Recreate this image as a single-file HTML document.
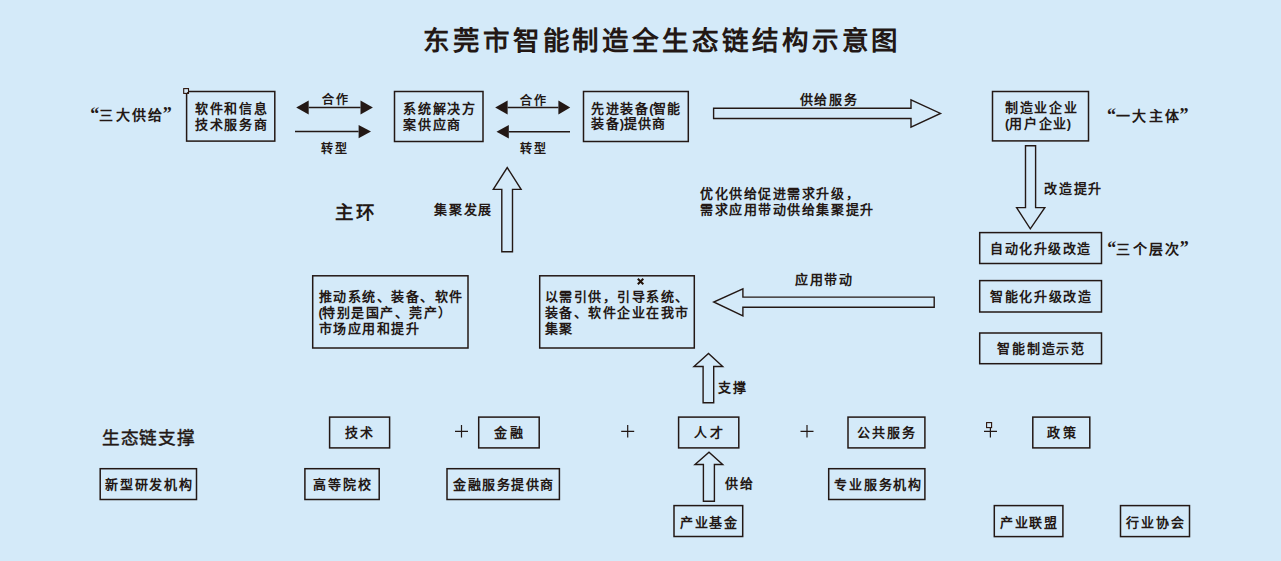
<!DOCTYPE html>
<html lang="zh-CN">
<head>
<meta charset="utf-8">
<title>东莞市智能制造全生态链结构示意图</title>
<style>
html,body{margin:0;padding:0;}
body{width:1281px;height:561px;overflow:hidden;background:#d4eaf9;position:relative;
  font-family:"Liberation Sans",sans-serif;color:#231815;}
svg{position:absolute;left:0;top:0;}
.t{position:absolute;white-space:nowrap;font-weight:700;font-size:13px;line-height:16px;letter-spacing:1.7px;}
.q{position:absolute;white-space:nowrap;font-weight:700;font-size:14px;line-height:16px;letter-spacing:2.4px;}
.qm{position:relative;top:0px;font-family:"Liberation Serif",serif;font-size:18px;line-height:0;letter-spacing:0px;}
.ql{letter-spacing:0.3px;}
</style>
</head>
<body>
<svg width="1281" height="561" viewBox="0 0 1281 561">
 <g fill="none" stroke="#231815" stroke-width="1.5">
  <!-- top row boxes -->
  <rect x="186.6" y="91.5" width="88.2" height="49.6"/>
  <rect x="394.5" y="91.5" width="88.5" height="50"/>
  <rect x="583.5" y="91.5" width="104.8" height="50"/>
  <rect x="992.5" y="91.5" width="96" height="49.4"/>
  <!-- right column -->
  <rect x="979.7" y="232.6" width="121.8" height="30.9"/>
  <rect x="979.7" y="280.6" width="121.8" height="31.4"/>
  <rect x="979.7" y="333" width="121.8" height="30.7"/>
  <!-- middle boxes -->
  <rect x="312.7" y="275.8" width="155.3" height="72.2"/>
  <rect x="539.7" y="275.8" width="154.6" height="72.2"/>
  <!-- support row -->
  <rect x="329.6" y="417.1" width="60" height="30.8"/>
  <rect x="478.7" y="417.1" width="60.5" height="30.8"/>
  <rect x="678.6" y="417.1" width="60.2" height="30.8"/>
  <rect x="848" y="417.1" width="76.9" height="30.8"/>
  <rect x="1032.8" y="417.1" width="57" height="30.8"/>
  <rect x="100.2" y="468.7" width="96.3" height="30.8"/>
  <rect x="304.9" y="468.7" width="74.3" height="30.8"/>
  <rect x="447" y="468.7" width="112.4" height="30.8"/>
  <rect x="828.7" y="468.7" width="96.2" height="30.8"/>
  <rect x="674" y="505.6" width="68.7" height="30.9"/>
  <rect x="994.3" y="505.6" width="68.6" height="31"/>
  <rect x="1120.5" y="505.6" width="69" height="31"/>
  <!-- hollow arrows -->
  <polygon points="713.6,108.3 911,108.3 911,99.8 940.5,113.4 911,127.2 911,118.5 713.6,118.5" stroke-width="1.4"/>
  <polygon points="934.2,297.1 742.9,297.1 742.9,288.9 713.7,302 742.9,316 742.9,307.2 934.2,307.2" stroke-width="1.4"/>
  <polygon points="1025.5,145.8 1035.6,145.8 1035.6,207.6 1044.8,207.6 1030.3,228.8 1016.6,207.6 1025.5,207.6" stroke-width="1.4"/>
  <polygon points="501.8,251.8 501.8,189.4 493.3,189.4 507.2,167.5 521.1,189.4 512.5,189.4 512.5,251.8" stroke-width="1.4"/>
  <polygon points="703.1,402.7 703.1,366.5 694,366.5 708.5,353.5 722.7,366.5 713.7,366.5 713.7,402.7" stroke-width="1.4"/>
  <polygon points="703.4,501.2 703.4,464.5 695,464.5 709,452.3 722.7,464.5 714.4,464.5 714.4,501.2" stroke-width="1.4"/>
  <!-- plus signs -->
  <g stroke-width="1.2">
   <path d="M455 431.3H468M461.5 425.1V437.6"/>
   <path d="M621.2 431.3H634.2M627.7 425.1V437.6"/>
   <path d="M800.5 431.3H813.5M807 425.1V437.6"/>
   <path d="M984 431.3H997M990.4 427.8V437.6"/>
  </g>
  <!-- small squares / marks -->
  <rect x="183.7" y="88.6" width="4.8" height="4.8" stroke="#2e140a" stroke-width="1.1" fill="#d6ecfb"/><circle cx="187.6" cy="92.6" r="0.7" fill="#231815" stroke="none"/>
  <rect x="986.6" y="422.6" width="5" height="5" stroke="#2e140a" stroke-width="1.1" fill="#d6ecfb"/>
  <path d="M637.8 278.8L643.3 284.3M643.3 278.8L637.8 284.3" stroke-width="2" stroke="#231208"/>
  <!-- thin arrows shafts -->
  <g stroke-width="1.5">
   <path d="M308.7 107.6H360.5"/>
   <path d="M295 131.6H358.6"/>
   <path d="M507.6 107.6H558.4"/>
   <path d="M508.8 131.7H570"/>
  </g>
 </g>
 <g fill="#231815">
  <polygon points="296.2,107.6 308.7,100.6 308.7,114.6"/>
  <polygon points="372.9,107.6 360.5,100.6 360.5,114.6"/>
  <polygon points="371,131.6 358.6,125 358.6,138.3"/>
  <polygon points="495.2,107.6 507.6,100.6 507.6,114.6"/>
  <polygon points="570.2,107.6 558.4,100.6 558.4,114.6"/>
  <polygon points="496.5,131.7 508.8,125 508.8,138.4"/>
 </g>
</svg>

<!-- title -->
<div class="t" style="left:423px;top:28px;font-size:26.5px;line-height:27px;letter-spacing:3.9px;">东莞市智能制造全生态链结构示意图</div>

<!-- quoted labels -->
<div class="q" style="left:90.2px;top:107px;"><span class="qm">“</span>三大供<span class="ql">给</span><span class="qm">”</span></div>
<div class="q" style="left:1107px;top:108px;"><span class="qm">“</span>一大主<span class="ql">体</span><span class="qm">”</span></div>
<div class="q" style="left:1107.2px;top:240.5px;"><span class="qm">“</span>三个层<span class="ql">次</span><span class="qm">”</span></div>

<!-- top boxes text -->
<div class="t" style="left:195px;top:101.1px;line-height:15.5px;">软件和信息<br>技术服务商</div>
<div class="t" style="left:403.4px;top:101.3px;line-height:15.4px;">系统解决方<br>案供应商</div>
<div class="t" style="left:591.2px;top:100.7px;line-height:15.2px;letter-spacing:1.45px;">先进装<span style="letter-spacing:1.6px">备</span><span style="letter-spacing:-0.5px">(</span>智能<br>装<span style="letter-spacing:1.2px">备</span><span style="letter-spacing:-0.6px">)</span>提供商</div>
<div class="t" style="left:1005px;top:100px;line-height:16px;">制造业企业<br><span style="letter-spacing:-0.2px">(</span>用户企<span style="letter-spacing:0.6px">业</span>)</div>

<!-- arrow labels -->
<div class="t" style="left:322px;top:92px;font-size:12px;letter-spacing:2px;">合作</div>
<div class="t" style="left:320.5px;top:141px;font-size:12px;letter-spacing:2px;">转型</div>
<div class="t" style="left:520px;top:93px;font-size:12px;letter-spacing:2px;">合作</div>
<div class="t" style="left:520px;top:141px;font-size:12px;letter-spacing:2px;">转型</div>
<div class="t" style="left:799.5px;top:91.7px;">供给服务</div>
<div class="t" style="left:1044.3px;top:180.5px;">改造提升</div>

<!-- right column texts -->
<div class="t" style="left:990.2px;top:241px;letter-spacing:1.53px;">自动化升级改造</div>
<div class="t" style="left:990px;top:288.6px;letter-spacing:1.63px;">智能化升级改造</div>
<div class="t" style="left:997px;top:340.6px;letter-spacing:1.84px;">智能制造示范</div>

<!-- middle -->
<div class="t" style="left:335px;top:203px;font-size:18.5px;line-height:19px;letter-spacing:2px;font-weight:700;">主环</div>
<div class="t" style="left:434.2px;top:202.4px;font-weight:700;letter-spacing:1.7px;">集聚发展</div>
<div class="t" style="left:700.1px;top:185.5px;line-height:16.8px;letter-spacing:1.55px;">优化供给促进需求升级，<br>需求应用带动供给集聚提升</div>
<div class="t" style="left:795.2px;top:272px;letter-spacing:1.55px;">应用带动</div>
<div class="t" style="left:318.6px;top:289.2px;letter-spacing:1.5px;line-height:16px;">推动系统、装备、软件<br><span style="letter-spacing:-0.6px">(</span>特别是国产、莞产）<br>市场应用和提升</div>
<div class="t" style="left:545px;top:289.2px;letter-spacing:1.45px;line-height:16px;">以需引供，引导系统、<br>装备、软件企业在我市<br>集聚</div>
<div class="t" style="left:718px;top:379.5px;letter-spacing:2.2px;">支撑</div>

<!-- support section -->
<div class="t" style="left:102.4px;top:429.2px;font-size:17.6px;line-height:18px;letter-spacing:0.55px;font-weight:400;-webkit-text-stroke:0.45px #231815;">生态链支撑</div>
<div class="t" style="left:344.7px;top:424.8px;letter-spacing:2.5px;">技术</div>
<div class="t" style="left:494.4px;top:424.8px;letter-spacing:2.3px;">金融</div>
<div class="t" style="left:693.6px;top:424.8px;letter-spacing:3.6px;">人才</div>
<div class="t" style="left:857.2px;top:424.8px;letter-spacing:1.93px;">公共服务</div>
<div class="t" style="left:1047.0px;top:424.8px;letter-spacing:2.6px;">政策</div>
<div class="t" style="left:725px;top:476px;letter-spacing:2px;">供给</div>
<div class="t" style="left:105px;top:476.8px;letter-spacing:1.82px;">新型研发机构</div>
<div class="t" style="left:313.2px;top:476.8px;letter-spacing:1.87px;">高等院校</div>
<div class="t" style="left:453px;top:476.8px;letter-spacing:1.58px;">金融服务提供商</div>
<div class="t" style="left:834.4px;top:476.8px;letter-spacing:1.74px;">专业服务机构</div>
<div class="t" style="left:680px;top:514.8px;letter-spacing:1.53px;">产业基金</div>
<div class="t" style="left:1000.3px;top:514.6px;letter-spacing:1.6px;">产业联盟</div>
<div class="t" style="left:1126px;top:514.6px;letter-spacing:1.97px;">行业协会</div>
</body>
</html>
